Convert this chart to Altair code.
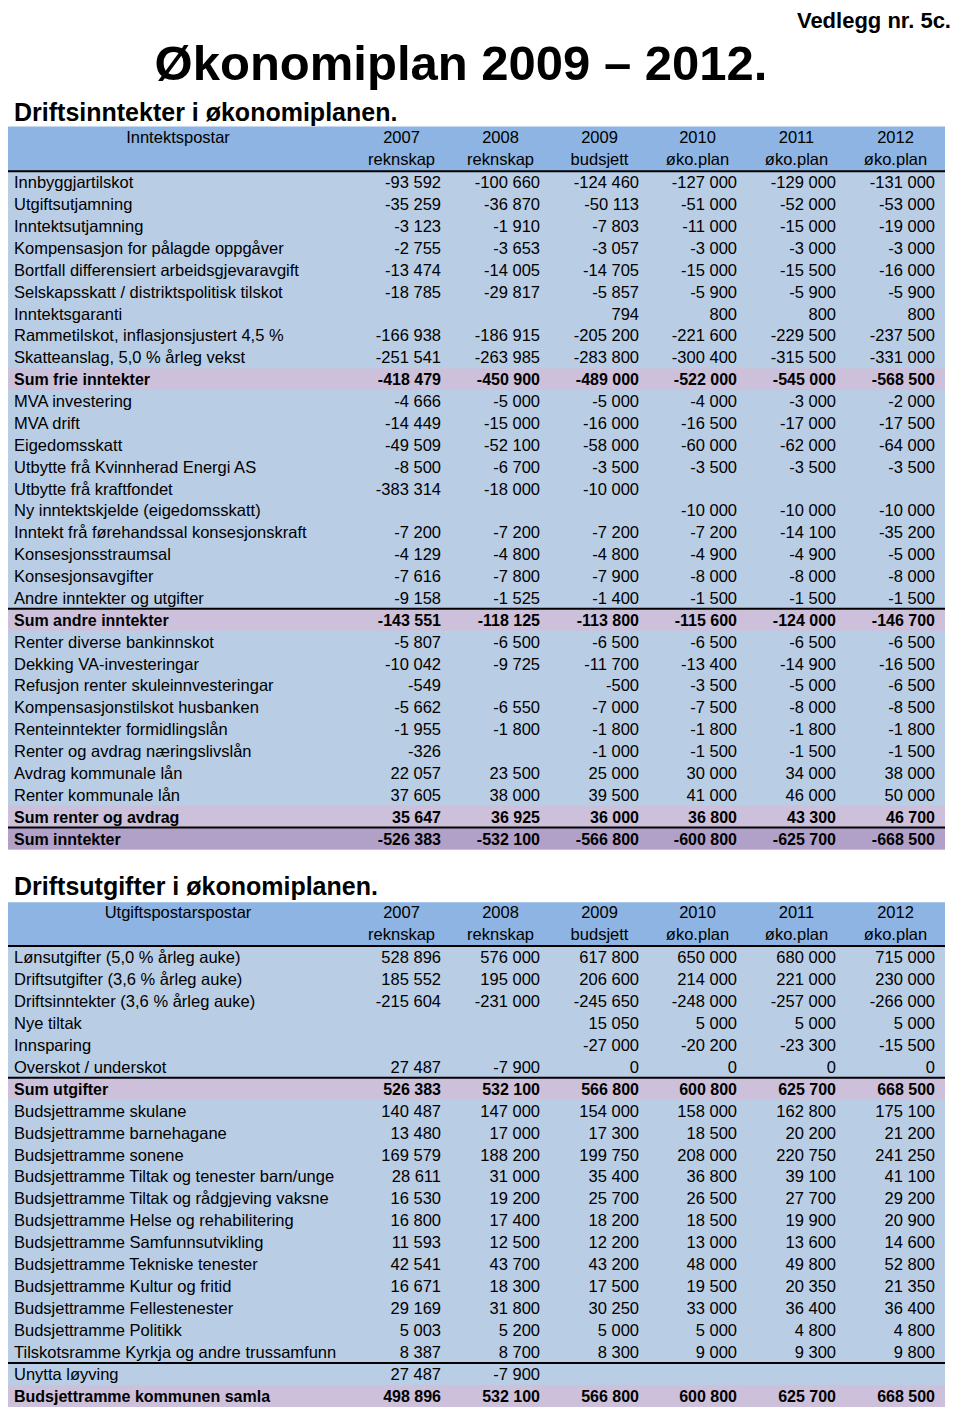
import altair as alt
import pandas as pd

# ---------------- Driftsinntekter ----------------
inc_head = "Inntektspostar"
inc_labels = [
    "Innbyggjartilskot", "Utgiftsutjamning", "Inntektsutjamning",
    "Kompensasjon for pålagde oppgåver", "Bortfall differensiert arbeidsgjevaravgift",
    "Selskapsskatt / distriktspolitisk tilskot", "Inntektsgaranti",
    "Rammetilskot, inflasjonsjustert 4,5 %", "Skatteanslag, 5,0 % årleg vekst",
    "Sum frie inntekter", "MVA  investering", "MVA drift", "Eigedomsskatt",
    "Utbytte frå Kvinnherad Energi AS", "Utbytte frå kraftfondet",
    "Ny inntektskjelde (eigedomsskatt)", "Inntekt frå førehandssal konsesjonskraft",
    "Konsesjonsstraumsal", "Konsesjonsavgifter", "Andre inntekter og utgifter",
    "Sum  andre inntekter", "Renter diverse bankinnskot", "Dekking VA-investeringar",
    "Refusjon renter skuleinnvesteringar", "Kompensasjonstilskot husbanken",
    "Renteinntekter formidlingslån", "Renter og avdrag næringslivslån",
    "Avdrag kommunale lån", "Renter kommunale lån", "Sum renter og avdrag", "Sum inntekter",
]
inc_2007 = [-93592, -35259, -3123, -2755, -13474, -18785, None, -166938, -251541, -418479,
            -4666, -14449, -49509, -8500, -383314, None, -7200, -4129, -7616, -9158,
            -143551, -5807, -10042, -549, -5662, -1955, -326, 22057, 37605, 35647, -526383]
inc_2008 = [-100660, -36870, -1910, -3653, -14005, -29817, None, -186915, -263985, -450900,
            -5000, -15000, -52100, -6700, -18000, None, -7200, -4800, -7800, -1525,
            -118125, -6500, -9725, None, -6550, -1800, None, 23500, 38000, 36925, -532100]
inc_2009 = [-124460, -50113, -7803, -3057, -14705, -5857, 794, -205200, -283800, -489000,
            -5000, -16000, -58000, -3500, -10000, None, -7200, -4800, -7900, -1400,
            -113800, -6500, -11700, -500, -7000, -1800, -1000, 25000, 39500, 36000, -566800]
inc_2010 = [-127000, -51000, -11000, -3000, -15000, -5900, 800, -221600, -300400, -522000,
            -4000, -16500, -60000, -3500, None, -10000, -7200, -4900, -8000, -1500,
            -115600, -6500, -13400, -3500, -7500, -1800, -1500, 30000, 41000, 36800, -600800]
inc_2011 = [-129000, -52000, -15000, -3000, -15500, -5900, 800, -229500, -315500, -545000,
            -3000, -17000, -62000, -3500, None, -10000, -14100, -4900, -8000, -1500,
            -124000, -6500, -14900, -5000, -8000, -1800, -1500, 34000, 46000, 43300, -625700]
inc_2012 = [-131000, -53000, -19000, -3000, -16000, -5900, 800, -237500, -331000, -568500,
            -2000, -17500, -64000, -3500, None, -10000, -35200, -5000, -8000, -1500,
            -146700, -6500, -16500, -6500, -8500, -1800, -1500, 38000, 50000, 46700, -668500]
inc_sum_rows = ["Sum frie inntekter", "Sum  andre inntekter", "Sum renter og avdrag"]
inc_total_rows = ["Sum inntekter"]
inc_rule_above = ["Sum  andre inntekter", "Sum inntekter"]

# ---------------- Driftsutgifter ----------------
exp_head = "Utgiftspostarspostar"
exp_labels = [
    "Lønsutgifter (5,0 % årleg auke)", "Driftsutgifter (3,6 % årleg auke)",
    "Driftsinntekter (3,6 % årleg auke)", "Nye tiltak", "Innsparing",
    "Overskot / underskot", "Sum utgifter", "Budsjettramme skulane",
    "Budsjettramme barnehagane", "Budsjettramme sonene",
    "Budsjettramme Tiltak og tenester barn/unge", "Budsjettramme Tiltak og rådgjeving vaksne",
    "Budsjettramme Helse og rehabilitering", "Budsjettramme Samfunnsutvikling",
    "Budsjettramme Tekniske tenester", "Budsjettramme Kultur og fritid",
    "Budsjettramme Fellestenester", "Budsjettramme Politikk",
    "Tilskotsramme Kyrkja og andre trussamfunn", "Unytta løyving",
    "Budsjettramme kommunen samla",
]
exp_2007 = [528896, 185552, -215604, None, None, 27487, 526383, 140487, 13480, 169579,
            28611, 16530, 16800, 11593, 42541, 16671, 29169, 5003, 8387, 27487, 498896]
exp_2008 = [576000, 195000, -231000, None, None, -7900, 532100, 147000, 17000, 188200,
            31000, 19200, 17400, 12500, 43700, 18300, 31800, 5200, 8700, -7900, 532100]
exp_2009 = [617800, 206600, -245650, 15050, -27000, 0, 566800, 154000, 17300, 199750,
            35400, 25700, 18200, 12200, 43200, 17500, 30250, 5000, 8300, None, 566800]
exp_2010 = [650000, 214000, -248000, 5000, -20200, 0, 600800, 158000, 18500, 208000,
            36800, 26500, 18500, 13000, 48000, 19500, 33000, 5000, 9000, None, 600800]
exp_2011 = [680000, 221000, -257000, 5000, -23300, 0, 625700, 162800, 20200, 220750,
            39100, 27700, 19900, 13600, 49800, 20350, 36400, 4800, 9300, None, 625700]
exp_2012 = [715000, 230000, -266000, 5000, -15500, 0, 668500, 175100, 21200, 241250,
            41100, 29200, 20900, 14600, 52800, 21350, 36400, 4800, 9800, None, 668500]
exp_sum_rows = ["Sum utgifter", "Budsjettramme kommunen samla"]
exp_total_rows = []
exp_rule_above = ["Sum utgifter", "Unytta løyving"]

years = ["2007", "2008", "2009", "2010", "2011", "2012"]
subheads = ["reknskap", "reknskap", "budsjett", "øko.plan", "øko.plan", "øko.plan"]

main_title = "Økonomiplan 2009 – 2012."
corner_title = "Vedlegg nr. 5c."
inc_title = "Driftsinntekter i økonomiplanen."
exp_title = "Driftsutgifter i økonomiplanen."

# ---------------- layout (reference page coordinates) ----------------
FONT = "Liberation Sans"
W, H = 944, 1399                 # drawing size that fits the 960x1415 window
XDOM = [8, 952]
YDOM = [8, 1413]
X0, X1 = 3, 945
LABEL_X = 14
HEAD_LABEL_CX = 178
VAL_RIGHT = [441, 540, 639, 737, 836, 935]
HEAD_CX = [r - 39.5 for r in VAL_RIGHT]
C_HEAD, C_BODY, C_SUM, C_TOTAL = "#8DB4E2", "#B9CDE5", "#CCC0DA", "#B1A0C7"

bg, rules, t_left, t_left_b, t_right, t_right_b, t_center = [], [], [], [], [], [], []


def fmt(v):
    return "" if v is None else f"{v:,}".replace(",", " ")


def build(head, labels, cols, sums, totals, rule_above, head_top, head_y, row0, pitch):
    head_bottom = row0 - pitch / 2
    n = len(labels)
    bg.append(dict(x=X0, x2=X1, y=head_top, y2=head_bottom, fill=C_HEAD))
    bg.append(dict(x=X0, x2=X1, y=head_bottom, y2=row0 + (n - 0.5) * pitch, fill=C_BODY))
    rules.append(dict(x=X0, x2=X1, y=head_bottom))
    t_center.append(dict(x=HEAD_LABEL_CX, y=head_y[0], t=head))
    for j in range(6):
        t_center.append(dict(x=HEAD_CX[j], y=head_y[0], t=years[j]))
        t_center.append(dict(x=HEAD_CX[j], y=head_y[1], t=subheads[j]))
    for i, lab in enumerate(labels):
        yc = row0 + i * pitch
        bold = lab in sums or lab in totals
        if bold:
            bg.append(dict(x=X0, x2=X1, y=yc - pitch / 2, y2=yc + pitch / 2,
                           fill=C_TOTAL if lab in totals else C_SUM))
        if lab in rule_above:
            rules.append(dict(x=X0, x2=X1, y=yc - pitch / 2))
        (t_left_b if bold else t_left).append(dict(x=LABEL_X, y=yc, t=lab))
        for j in range(6):
            (t_right_b if bold else t_right).append(dict(x=VAL_RIGHT[j], y=yc, t=fmt(cols[j][i])))


build(inc_head, inc_labels, [inc_2007, inc_2008, inc_2009, inc_2010, inc_2011, inc_2012],
      inc_sum_rows, inc_total_rows, inc_rule_above, 127, (138, 160), 183, 21.97)
build(exp_head, exp_labels, [exp_2007, exp_2008, exp_2009, exp_2010, exp_2011, exp_2012],
      exp_sum_rows, exp_total_rows, exp_rule_above, 906, (916, 938), 961, 22.05)

XS = alt.Scale(domain=XDOM, range=[0, W], nice=False, zero=False)
YS = alt.Scale(domain=YDOM, range=[0, H], nice=False, zero=False)


def X(f="x"):
    return alt.X(f"{f}:Q", scale=XS, axis=None)


def Y(f="y"):
    return alt.Y(f"{f}:Q", scale=YS, axis=None)


layers = []
layers.append(alt.Chart(pd.DataFrame(bg)).mark_rect().encode(
    x=X(), x2="x2", y=Y(), y2="y2", color=alt.Color("fill:N", scale=None)))
layers.append(alt.Chart(pd.DataFrame(rules)).mark_rule(color="black", strokeWidth=2).encode(
    x=X(), x2="x2", y=Y()))


def text_layer(rows, align, bold, size=16.5):
    return alt.Chart(pd.DataFrame(rows)).mark_text(
        align=align, baseline="middle", font=FONT, fontSize=size, dy=1,
        fontWeight="bold" if bold else "normal", color="black"
    ).encode(x=X(), y=Y(), text="t:N")


layers.append(text_layer(t_left, "left", False))
layers.append(text_layer(t_left_b, "left", True, 16))
layers.append(text_layer(t_right, "right", False))
layers.append(text_layer(t_right_b, "right", True, 16))
layers.append(text_layer(t_center, "center", False))


def title_layer(txt, x, y, align, size):
    return alt.Chart(pd.DataFrame([dict(x=x, y=y, t=txt)])).mark_text(
        align=align, baseline="alphabetic", font=FONT, fontSize=size,
        fontWeight="bold", color="black"
    ).encode(x=X(), y=Y(), text="t:N")


layers.append(title_layer(corner_title, 951, 28, "right", 22))
layers.append(title_layer(main_title, 461, 80, "center", 49))
layers.append(title_layer(inc_title, 14, 121, "left", 25))
layers.append(title_layer(exp_title, 14, 899, "left", 25))

chart = alt.layer(*layers).properties(
    width=W, height=H,
    padding=0,
    autosize=alt.AutoSizeParams(type="none"),
).configure_view(stroke=None)

chart.save("out.html", embed_options={"renderer": "svg", "actions": False})
